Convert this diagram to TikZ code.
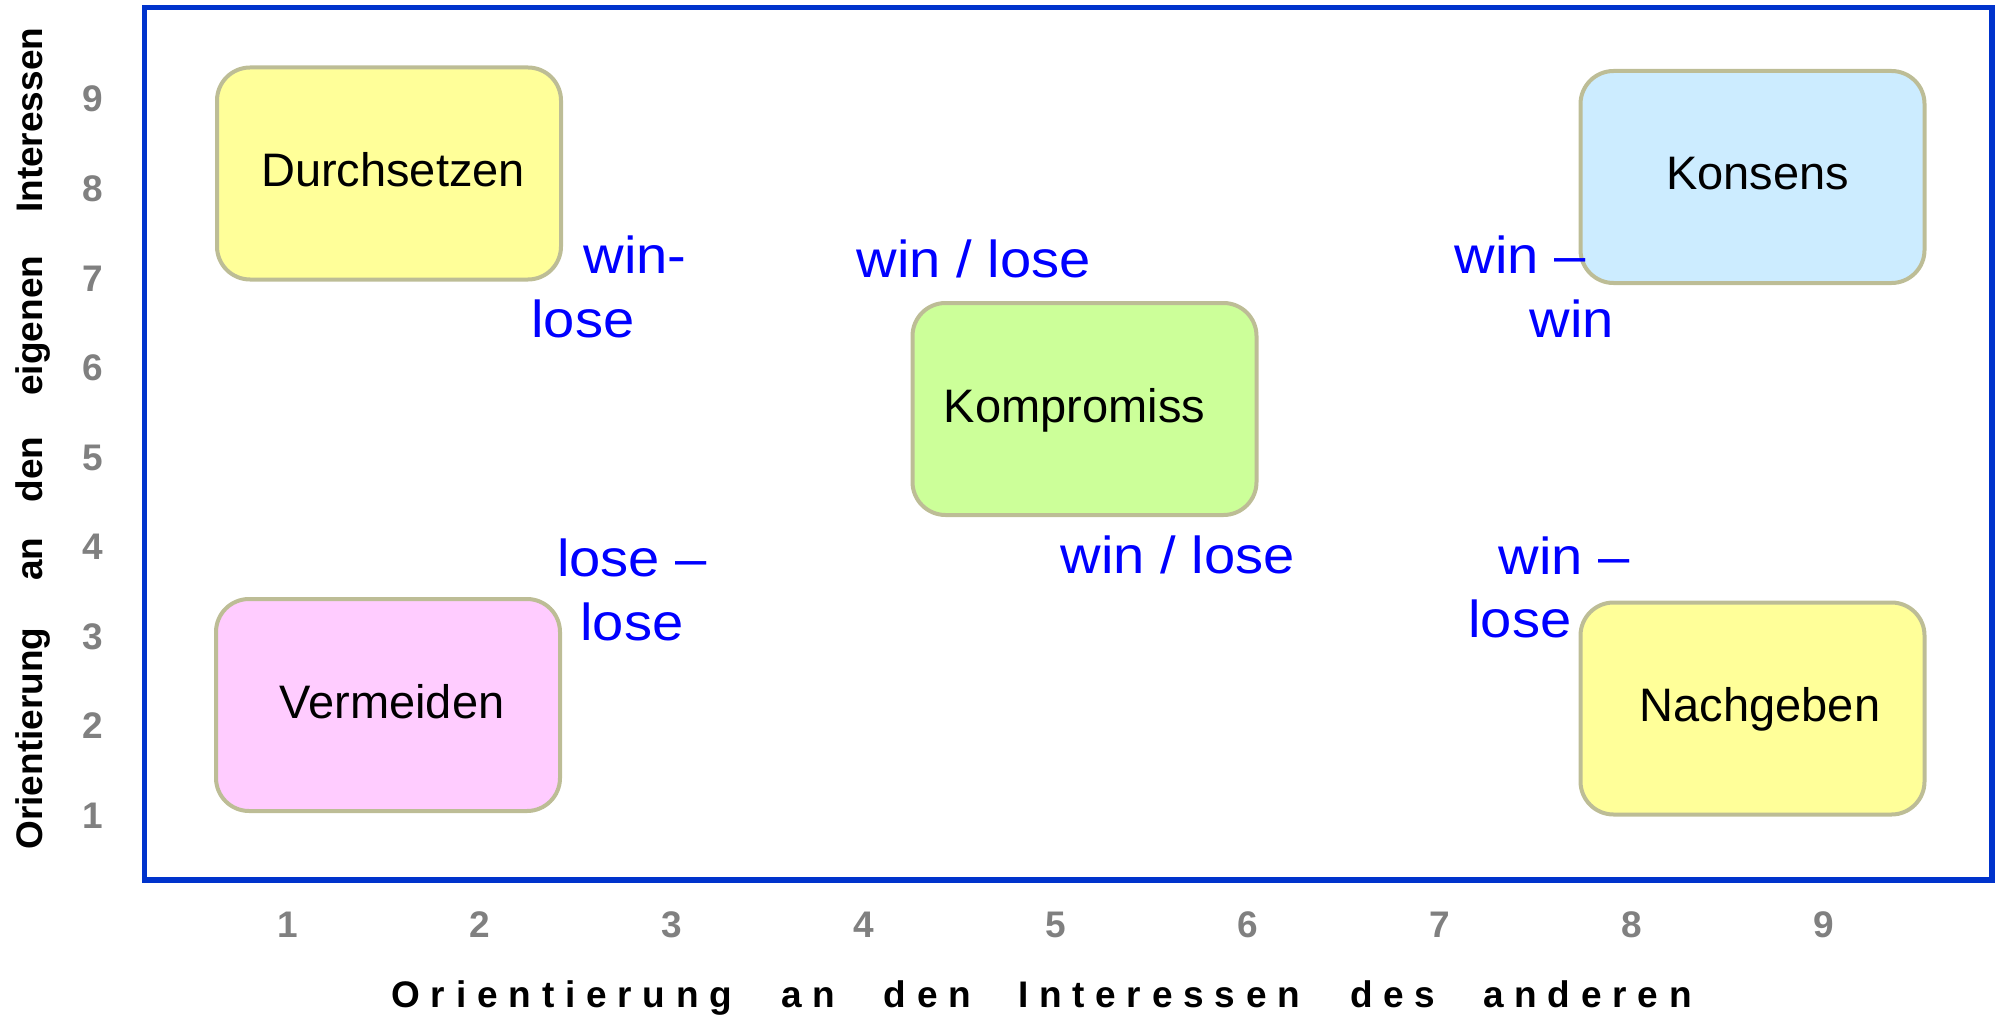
\documentclass[tikz,border=0pt]{standalone}
\usepackage{fontspec}
\setmainfont{Liberation Sans}
\newfontfamily\bluefont[FakeStretch=1.08]{Liberation Sans}
\definecolor{framecol}{RGB}{0,51,204}
\definecolor{boxline}{RGB}{189,189,150}
\definecolor{fillyellow}{RGB}{255,255,153}
\definecolor{fillblue}{RGB}{204,236,255}
\definecolor{fillgreen}{RGB}{204,255,153}
\definecolor{fillpink}{RGB}{255,204,255}
\definecolor{tickgray}{RGB}{128,128,128}
\definecolor{labelblue}{RGB}{0,0,255}
\makeatletter
\newcommand\lsword[1]{\@tfor\lsc:=#1\do{\lsc\hspace{5.4pt}}}
\makeatother
\begin{document}
\begin{tikzpicture}[x=0.5pt,y=-0.5pt,
  plotframe/.style={draw=framecol, line width=2.6pt},
  quad/.style={draw=boxline, line width=2pt, rounded corners=16.5pt,
    minimum width=172pt, minimum height=106pt, inner sep=0pt,
    text height=17pt, text depth=4pt, font=\fontsize{23.5}{28}\selectfont},
  tick/.style={text=tickgray, font=\bfseries\fontsize{18.5}{20}\selectfont, anchor=base, inner sep=0pt},
  outcome/.style={text=labelblue, font=\bluefont\fontsize{26}{32}\selectfont, anchor=base, inner sep=0pt},
  axtitle/.style={font=\bfseries\fontsize{18.5}{20}\selectfont, inner sep=0pt}]
\useasboundingbox (0,0) rectangle (2005,1016);
\draw[plotframe] (144.5,7.5) rectangle (1992,880);
% strategy boxes
\node[quad, fill=fillyellow] (durch) at (389,173.5) {\hspace*{4pt}Durchsetzen};
\node[quad, fill=fillblue]   (kons)  at (1752.5,177) {\hspace*{5pt}Konsens};
\node[quad, fill=fillgreen]  (komp)  at (1084.5,409) {Kompromiss\hspace*{10pt}};
\node[quad, fill=fillpink]   (verm)  at (388,705) {\hspace*{4pt}Vermeiden};
\node[quad, fill=fillyellow] (nach)  at (1752.5,708.5) {\hspace*{7.5pt}Nachgeben};
% outcome labels
\node[outcome] (wl1a) at (635,273) {win-};
\node[outcome] (wl1b) at (583,337) {lose};
\node[outcome] (wl2)  at (974,278) {win / lose};
\node[outcome] (ww1)  at (1520,273) {win –};
\node[outcome] (ww2)  at (1572,337) {win};
\node[outcome] (ll1)  at (632,576) {lose –};
\node[outcome] (ll2)  at (632,640) {lose};
\node[outcome] (wl3)  at (1178,573) {win / lose};
\node[outcome] (wn1)  at (1564,574) {win –};
\node[outcome] (wn2)  at (1520,637) {lose};
% ticks
\foreach \i in {1,...,9}{
  \node[tick] (xt\i) at ({288+(\i-1)*192},937) {\i};
  \node[tick] (yt\i) at (93,{828-(\i-1)*89.5}) {\i};
}
% axis titles
\node[axtitle, anchor=base west] (xtitle) at (391,1007)
  {\lsword{Orientierung}\hspace{19pt}\lsword{an}\hspace{19pt}\lsword{den}\hspace{18pt}\lsword{Interessen}\hspace{19.5pt}\lsword{des}\hspace{18.5pt}\lsword{anderen}};
\node[axtitle, rotate=90, anchor=base west] (ytitle) at (42.5,850)
  {Orientierung\hspace{23.5pt}an\hspace{17.5pt}den\hspace{20.5pt}eigenen\hspace{21.5pt}Interessen};
\end{tikzpicture}
\end{document}
